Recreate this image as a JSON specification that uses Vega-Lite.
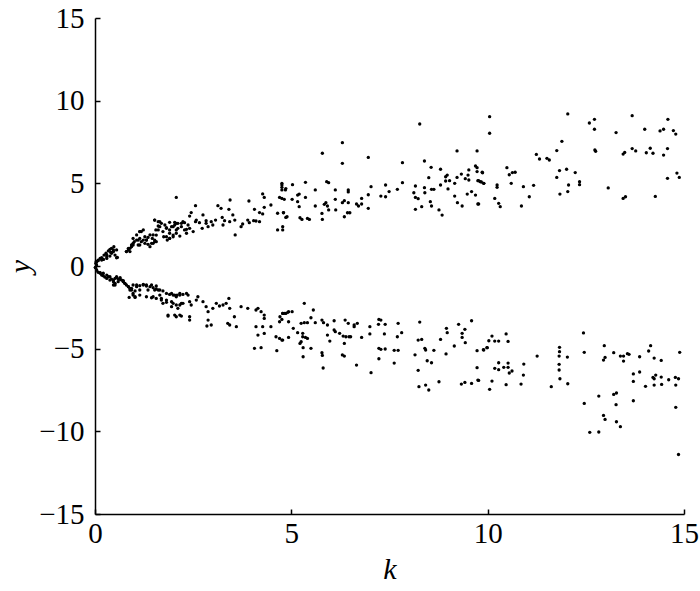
{
"$schema":"https://vega.github.io/schema/vega-lite/v6.json",
"width":589,"height":496,
"autosize":{"type":"none"},
"padding":{"left":95,"top":18,"right":16,"bottom":77},
"background":"white",
"config":{"view":{"stroke":null},
"axis":{"domainColor":"black","domainWidth":1.5,"tickColor":"black","tickWidth":1.5,"tickSize":-5,"grid":false,"labelFont":"Liberation Serif","labelFontSize":29,"labelColor":"black","titleFont":"Liberation Serif","titleFontSize":30,"titleFontStyle":"italic","titleFontWeight":"normal","titleColor":"black","labelFlush":false,"labelOverlap":false}},
"data":{"values":[
{"k":4.76,"y":4.90},{"k":4.76,"y":4.76},{"k":4.76,"y":4.60},{"k":4.86,"y":4.68},{"k":4.70,"y":4.15},{"k":5.03,"y":4.92},{"k":5.36,"y":5.06},{"k":4.82,"y":4.03},{"k":5.02,"y":4.03},{"k":5.16,"y":4.29},{"k":5.20,"y":4.35},{"k":5.16,"y":3.89},{"k":5.20,"y":3.59},{"k":5.36,"y":4.15},{"k":5.61,"y":4.60},{"k":5.61,"y":3.63},{"k":4.80,"y":3.22},{"k":4.86,"y":2.94},{"k":4.78,"y":2.38},{"k":5.22,"y":2.92},{"k":5.27,"y":2.82},{"k":5.41,"y":2.88},{"k":5.46,"y":2.82},{"k":5.78,"y":3.18},{"k":5.79,"y":2.82},{"k":5.79,"y":6.82},{"k":5.90,"y":5.10},{"k":5.95,"y":5.04},{"k":5.88,"y":3.83},{"k":5.92,"y":3.63},{"k":5.84,"y":3.73},{"k":5.95,"y":3.39},{"k":6.12,"y":4.60},{"k":6.12,"y":4.03},{"k":6.13,"y":3.39},{"k":6.30,"y":7.46},{"k":6.30,"y":6.21},{"k":6.30,"y":3.83},{"k":6.35,"y":3.95},{"k":6.45,"y":4.60},{"k":6.45,"y":4.48},{"k":6.45,"y":3.83},{"k":6.35,"y":2.98},{"k":6.43,"y":3.22},{"k":6.49,"y":3.22},{"k":6.66,"y":3.75},{"k":6.71,"y":3.63},{"k":6.79,"y":4.09},{"k":6.79,"y":3.75},{"k":6.96,"y":6.57},{"k":6.96,"y":4.31},{"k":6.96,"y":3.49},{"k":7.03,"y":4.80},{"k":7.28,"y":4.23},{"k":7.40,"y":4.90},{"k":7.40,"y":4.19},{"k":7.49,"y":4.50},{"k":7.70,"y":4.64},{"k":7.83,"y":6.25},{"k":7.83,"y":5.04},{"k":8.12,"y":4.43},{"k":8.16,"y":4.84},{"k":8.16,"y":4.15},{"k":8.23,"y":4.07},{"k":8.16,"y":3.43},{"k":8.32,"y":3.59},{"k":8.39,"y":4.74},{"k":8.40,"y":4.43},{"k":8.27,"y":8.59},{"k":8.39,"y":6.35},{"k":8.50,"y":5.34},{"k":8.56,"y":5.97},{"k":8.57,"y":4.64},{"k":8.63,"y":4.64},{"k":8.54,"y":3.89},{"k":8.57,"y":3.63},{"k":8.76,"y":3.39},{"k":8.84,"y":3.08},{"k":8.80,"y":5.85},{"k":8.80,"y":4.90},{"k":8.93,"y":5.40},{"k":8.97,"y":5.50},{"k":8.93,"y":5.14},{"k":9.03,"y":5.16},{"k":8.99,"y":4.66},{"k":9.16,"y":5.00},{"k":9.16,"y":4.23},{"k":9.22,"y":6.96},{"k":9.22,"y":5.36},{"k":9.23,"y":3.83},{"k":9.33,"y":5.56},{"k":9.35,"y":3.63},{"k":9.43,"y":5.28},{"k":9.50,"y":5.50},{"k":9.52,"y":5.81},{"k":9.52,"y":5.20},{"k":9.48,"y":4.35},{"k":9.59,"y":4.50},{"k":9.69,"y":6.05},{"k":9.73,"y":6.96},{"k":9.73,"y":5.95},{"k":9.73,"y":5.71},{"k":9.69,"y":4.29},{"k":9.75,"y":3.75},{"k":9.75,"y":5.16},{"k":9.81,"y":5.10},{"k":9.87,"y":5.64},{"k":9.90,"y":5.00},
{"k":5.33,"y":-2.26},{"k":4.78,"y":-2.86},{"k":4.82,"y":-2.86},{"k":4.91,"y":-2.80},{"k":5.02,"y":-2.76},{"k":4.70,"y":-3.37},{"k":4.76,"y":-3.23},{"k":4.93,"y":-3.37},{"k":5.56,"y":-2.66},{"k":5.50,"y":-3.13},{"k":5.05,"y":-3.77},{"k":5.16,"y":-4.03},{"k":5.25,"y":-3.47},{"k":5.33,"y":-3.43},{"k":5.41,"y":-3.43},{"k":5.61,"y":-3.43},{"k":5.78,"y":-3.27},{"k":5.82,"y":-3.43},{"k":5.92,"y":-3.57},{"k":6.09,"y":-3.31},{"k":6.37,"y":-3.27},{"k":6.45,"y":-3.47},{"k":6.60,"y":-3.57},{"k":6.68,"y":-3.47},{"k":6.60,"y":-3.67},{"k":7.00,"y":-3.67},{"k":7.23,"y":-3.23},{"k":7.28,"y":-3.27},{"k":7.22,"y":-3.53},{"k":7.39,"y":-3.53},{"k":7.72,"y":-3.47},{"k":4.78,"y":-4.48},{"k":4.93,"y":-4.32},{"k":5.22,"y":-4.68},{"k":5.29,"y":-4.07},{"k":5.25,"y":-4.58},{"k":5.29,"y":-4.28},{"k":5.36,"y":-4.32},{"k":5.41,"y":-4.38},{"k":5.30,"y":-4.94},{"k":5.50,"y":-4.98},{"k":5.30,"y":-5.49},{"k":5.78,"y":-5.24},{"k":5.79,"y":-5.41},{"k":5.81,"y":-6.17},{"k":5.92,"y":-4.18},{"k":5.98,"y":-4.54},{"k":6.09,"y":-3.87},{"k":6.12,"y":-3.97},{"k":6.23,"y":-4.07},{"k":6.32,"y":-4.24},{"k":6.35,"y":-4.68},{"k":6.30,"y":-5.38},{"k":6.35,"y":-5.45},{"k":6.39,"y":-4.28},{"k":6.47,"y":-4.28},{"k":6.51,"y":-4.28},{"k":6.79,"y":-4.32},{"k":6.66,"y":-5.99},{"k":7.00,"y":-4.11},{"k":7.23,"y":-4.98},{"k":7.28,"y":-5.04},{"k":7.39,"y":-5.02},{"k":7.37,"y":-4.11},{"k":7.23,"y":-5.61},{"k":7.03,"y":-6.45},{"k":7.62,"y":-5.10},{"k":7.72,"y":-5.10},{"k":7.70,"y":-4.28},{"k":7.81,"y":-4.03},{"k":7.62,"y":-5.87},{"k":8.15,"y":-5.37},{"k":8.23,"y":-4.48},{"k":8.32,"y":-4.44},{"k":8.27,"y":-3.39},{"k":8.40,"y":-4.98},{"k":8.42,"y":-5.08},{"k":8.63,"y":-5.10},{"k":8.46,"y":-5.73},{"k":8.57,"y":-5.85},{"k":8.23,"y":-6.31},{"k":8.25,"y":-7.30},{"k":8.42,"y":-7.20},{"k":8.50,"y":-7.50},{"k":8.76,"y":-7.00},{"k":8.80,"y":-4.44},{"k":8.94,"y":-5.32},{"k":8.95,"y":-3.77},{"k":8.97,"y":-4.03},{"k":9.15,"y":-4.84},{"k":9.26,"y":-3.53},{"k":9.35,"y":-4.07},{"k":9.35,"y":-4.32},{"k":9.42,"y":-3.83},{"k":9.43,"y":-4.64},{"k":9.59,"y":-3.31},{"k":9.73,"y":-5.12},{"k":9.90,"y":-5.08},{"k":9.98,"y":-4.94},{"k":9.73,"y":-6.15},{"k":9.75,"y":-6.90},{"k":9.33,"y":-7.14},{"k":9.42,"y":-7.04},{"k":9.59,"y":-7.10},
{"k":10.05,"y":9.03},{"k":10.05,"y":8.03},{"k":9.86,"y":5.67},{"k":9.77,"y":5.16},{"k":9.84,"y":5.08},{"k":9.90,"y":5.00},{"k":9.77,"y":3.75},{"k":10.24,"y":4.90},{"k":10.24,"y":4.76},{"k":10.18,"y":4.09},{"k":10.28,"y":3.79},{"k":10.32,"y":3.59},{"k":10.49,"y":5.95},{"k":10.55,"y":5.52},{"k":10.60,"y":5.00},{"k":10.63,"y":5.65},{"k":10.70,"y":5.67},{"k":10.86,"y":3.63},{"k":10.91,"y":4.80},{"k":11.06,"y":4.19},{"k":11.17,"y":4.88},{"k":11.24,"y":6.75},{"k":11.32,"y":6.47},{"k":11.51,"y":6.51},{"k":11.57,"y":6.41},{"k":11.76,"y":6.98},{"k":11.89,"y":7.54},{"k":12.04,"y":9.20},{"k":11.83,"y":5.77},{"k":11.76,"y":5.36},{"k":12.01,"y":5.85},{"k":12.23,"y":5.65},{"k":12.06,"y":4.90},{"k":12.04,"y":4.50},{"k":11.84,"y":4.35},{"k":12.34,"y":5.10},{"k":12.34,"y":4.92},{"k":12.59,"y":8.65},{"k":12.72,"y":8.87},{"k":12.72,"y":8.27},{"k":12.73,"y":7.02},{"k":12.75,"y":6.94},{"k":13.07,"y":4.72},{"k":13.27,"y":8.07},{"k":13.45,"y":6.77},{"k":13.49,"y":6.87},{"k":13.45,"y":4.09},{"k":13.51,"y":4.19},{"k":13.68,"y":9.09},{"k":13.68,"y":7.10},{"k":13.77,"y":6.96},{"k":14.00,"y":8.27},{"k":14.04,"y":6.85},{"k":14.14,"y":7.12},{"k":14.21,"y":6.82},{"k":14.27,"y":4.21},{"k":14.39,"y":8.17},{"k":14.48,"y":8.27},{"k":14.48,"y":6.71},{"k":14.58,"y":7.10},{"k":14.59,"y":8.87},{"k":14.58,"y":5.30},{"k":14.73,"y":8.19},{"k":14.79,"y":7.98},{"k":14.82,"y":5.62},{"k":14.88,"y":5.36},
{"k":10.11,"y":-4.24},{"k":10.03,"y":-4.52},{"k":10.18,"y":-4.54},{"k":10.28,"y":-4.54},{"k":10.47,"y":-4.11},{"k":10.52,"y":-4.56},{"k":9.99,"y":-4.94},{"k":9.89,"y":-5.06},{"k":10.28,"y":-5.85},{"k":10.52,"y":-5.87},{"k":10.18,"y":-6.19},{"k":10.28,"y":-6.27},{"k":10.41,"y":-6.13},{"k":10.52,"y":-6.13},{"k":10.62,"y":-6.35},{"k":10.55,"y":-6.47},{"k":10.92,"y":-5.93},{"k":10.91,"y":-6.60},{"k":9.77,"y":-6.92},{"k":10.11,"y":-6.96},{"k":10.05,"y":-7.46},{"k":10.47,"y":-7.18},{"k":10.85,"y":-7.14},{"k":11.26,"y":-5.45},{"k":11.83,"y":-4.92},{"k":11.83,"y":-5.18},{"k":11.82,"y":-5.45},{"k":11.82,"y":-5.95},{"k":11.82,"y":-6.29},{"k":11.84,"y":-6.82},{"k":12.03,"y":-5.51},{"k":12.04,"y":-7.12},{"k":11.62,"y":-7.30},{"k":12.44,"y":-4.05},{"k":12.46,"y":-5.22},{"k":12.97,"y":-4.82},{"k":12.99,"y":-5.53},{"k":12.95,"y":-5.69},{"k":13.21,"y":-5.24},{"k":13.38,"y":-5.45},{"k":13.46,"y":-5.45},{"k":13.46,"y":-5.75},{"k":13.56,"y":-5.30},{"k":13.60,"y":-5.34},{"k":13.87,"y":-5.49},{"k":14.10,"y":-5.14},{"k":14.15,"y":-4.82},{"k":14.24,"y":-5.57},{"k":14.42,"y":-5.71},{"k":14.89,"y":-5.22},{"k":13.71,"y":-6.53},{"k":13.87,"y":-6.41},{"k":13.71,"y":-6.98},{"k":14.02,"y":-7.28},{"k":14.21,"y":-6.74},{"k":14.24,"y":-6.82},{"k":14.28,"y":-6.60},{"k":14.42,"y":-6.72},{"k":14.24,"y":-7.20},{"k":14.43,"y":-7.16},{"k":14.61,"y":-6.88},{"k":14.78,"y":-6.74},{"k":14.86,"y":-6.82},{"k":14.79,"y":-7.20},{"k":13.71,"y":-8.15},{"k":12.46,"y":-8.31},{"k":12.83,"y":-7.87},{"k":13.21,"y":-7.77},{"k":13.28,"y":-7.68},{"k":13.27,"y":-8.39},{"k":12.95,"y":-9.04},{"k":12.99,"y":-9.28},{"k":13.28,"y":-9.42},{"k":13.38,"y":-9.72},{"k":12.60,"y":-10.06},{"k":12.83,"y":-10.04},{"k":14.79,"y":-8.55},{"k":14.86,"y":-11.40},
{"k":2.07,"y":4.15},{"k":2.56,"y":3.65},{"k":3.13,"y":3.65},{"k":3.44,"y":3.99},{"k":3.92,"y":3.93},{"k":4.27,"y":4.36},{"k":4.31,"y":4.15},{"k":4.76,"y":5.00},{"k":4.85,"y":4.60},{"k":4.76,"y":4.09},{"k":4.80,"y":3.23},{"k":4.65,"y":3.19},{"k":4.78,"y":2.18},{"k":4.65,"y":2.18},{"k":4.89,"y":2.98},{"k":4.48,"y":3.69},{"k":4.06,"y":3.43},{"k":4.19,"y":3.23},{"k":4.27,"y":3.15},{"k":4.31,"y":3.55},{"k":4.10,"y":2.72},{"k":3.93,"y":2.62},{"k":3.89,"y":2.78},{"k":4.04,"y":2.74},{"k":4.19,"y":2.68},{"k":3.76,"y":2.54},{"k":3.72,"y":2.38},{"k":3.57,"y":1.88},{"k":3.41,"y":3.43},{"k":3.51,"y":3.09},{"k":3.56,"y":2.78},{"k":3.43,"y":2.68},{"k":3.30,"y":2.74},{"k":3.26,"y":2.48},{"k":3.21,"y":3.49},{"k":3.24,"y":2.94},{"k":3.07,"y":2.78},{"k":3.00,"y":2.48},{"k":2.96,"y":2.68},{"k":2.83,"y":2.74},{"k":2.83,"y":2.58},{"k":2.88,"y":2.38},{"k":2.75,"y":3.09},{"k":2.73,"y":2.28},{"k":2.66,"y":2.62},{"k":2.58,"y":2.78},{"k":2.56,"y":2.68},{"k":2.45,"y":3.23},{"k":2.41,"y":3.02},{"k":2.41,"y":2.28},{"k":2.50,"y":2.08},{"k":2.33,"y":2.22},{"k":2.37,"y":2.48},{"k":2.28,"y":2.62},{"k":2.20,"y":2.58},{"k":2.11,"y":2.58},{"k":2.03,"y":2.64},{"k":2.07,"y":2.18},{"k":1.90,"y":2.64},{"k":1.99,"y":2.38},{"k":1.82,"y":2.32},{"k":1.90,"y":1.98},{"k":2.07,"y":1.98},{"k":2.16,"y":1.81},{"k":1.99,"y":1.77},{"k":1.90,"y":1.67},{"k":1.84,"y":1.57},{"k":1.75,"y":1.77},{"k":1.65,"y":2.68},{"k":1.61,"y":2.42},{"k":1.52,"y":2.78},{"k":1.55,"y":2.18},{"k":1.48,"y":1.88},{"k":1.40,"y":1.88},{"k":1.35,"y":1.73},{"k":1.31,"y":1.57},{"k":1.27,"y":1.37},{"k":1.14,"y":2.08},{"k":1.18,"y":2.08},{"k":1.06,"y":1.88},{"k":1.10,"y":1.57},{"k":1.14,"y":1.27},{"k":0.97,"y":1.37},{"k":0.93,"y":1.27},{"k":0.85,"y":1.07},{"k":0.80,"y":0.87},{"k":0.89,"y":0.87},{"k":0.97,"y":1.67},{"k":1.23,"y":1.57},{"k":1.52,"y":1.57},{"k":1.56,"y":1.47},{"k":1.44,"y":1.37},{"k":0.55,"y":0.97},{"k":0.47,"y":0.87},{"k":0.42,"y":0.77},{"k":0.38,"y":0.60},{"k":0.30,"y":0.46},{"k":0.21,"y":0.40},{"k":0.17,"y":0.36},{"k":0.08,"y":0.32},{"k":0.04,"y":0.26},{"k":0.30,"y":0.67},{"k":0.57,"y":0.52},{"k":0.02,"y":0.16},{"k":0.04,"y":0.06},
{"k":0.01,"y":-0.08},{"k":0.04,"y":-0.24},{"k":0.13,"y":-0.40},{"k":0.21,"y":-0.44},{"k":0.30,"y":-0.55},{"k":0.38,"y":-0.65},{"k":0.47,"y":-0.85},{"k":0.55,"y":-0.69},{"k":0.64,"y":-0.81},{"k":0.72,"y":-0.89},{"k":0.51,"y":-1.15},{"k":0.59,"y":-0.95},{"k":0.76,"y":-1.05},{"k":0.85,"y":-1.25},{"k":0.89,"y":-1.45},{"k":0.97,"y":-1.76},{"k":0.87,"y":-1.90},{"k":1.02,"y":-1.90},{"k":0.93,"y":-1.35},{"k":1.06,"y":-1.15},{"k":1.14,"y":-1.45},{"k":1.23,"y":-1.15},{"k":1.31,"y":-1.21},{"k":1.44,"y":-1.15},{"k":1.56,"y":-1.21},{"k":1.35,"y":-1.45},{"k":1.52,"y":-1.45},{"k":1.61,"y":-1.45},{"k":1.48,"y":-1.86},{"k":1.65,"y":-1.76},{"k":1.69,"y":-1.96},{"k":1.73,"y":-2.26},{"k":1.82,"y":-2.06},{"k":1.95,"y":-1.66},{"k":2.03,"y":-1.76},{"k":2.09,"y":-1.76},{"k":2.16,"y":-1.66},{"k":1.95,"y":-2.16},{"k":1.95,"y":-2.46},{"k":2.07,"y":-2.36},{"k":2.20,"y":-2.26},{"k":2.11,"y":-2.56},{"k":2.37,"y":-1.76},{"k":2.41,"y":-2.16},{"k":2.45,"y":-2.36},{"k":2.58,"y":-2.06},{"k":2.62,"y":-1.86},{"k":2.75,"y":-2.16},{"k":2.83,"y":-2.46},{"k":2.88,"y":-2.76},{"k":3.00,"y":-2.56},{"k":3.09,"y":-2.26},{"k":3.17,"y":-2.42},{"k":3.26,"y":-2.36},{"k":3.34,"y":-2.26},{"k":3.41,"y":-1.96},{"k":3.43,"y":-2.56},{"k":3.55,"y":-3.07},{"k":3.60,"y":-3.67},{"k":3.43,"y":-3.57},{"k":1.86,"y":-3.03},{"k":2.07,"y":-3.07},{"k":2.20,"y":-3.03},{"k":2.41,"y":-3.07},{"k":2.41,"y":-3.27},{"k":2.88,"y":-3.27},{"k":2.85,"y":-3.63},{"k":2.96,"y":-3.57},{"k":3.38,"y":-3.47},{"k":3.72,"y":-2.46},{"k":3.89,"y":-2.56},{"k":4.10,"y":-2.66},{"k":4.15,"y":-2.56},{"k":4.23,"y":-2.76},{"k":4.31,"y":-2.97},{"k":4.31,"y":-3.17},{"k":4.27,"y":-3.67},{"k":4.10,"y":-3.67},{"k":4.15,"y":-4.18},{"k":4.31,"y":-4.08},{"k":4.48,"y":-3.67},{"k":4.61,"y":-4.28},{"k":4.70,"y":-4.38},{"k":4.76,"y":-4.48},{"k":4.71,"y":-3.07},{"k":4.78,"y":-2.87},{"k":4.86,"y":-2.87},{"k":4.93,"y":-2.76},{"k":4.06,"y":-4.98},{"k":4.23,"y":-4.94},{"k":4.63,"y":-5.12},
{"k":0.03,"y":0.26},{"k":0.08,"y":0.36},{"k":0.13,"y":0.46},{"k":0.17,"y":0.50},{"k":0.23,"y":0.66},{"k":0.28,"y":0.77},{"k":0.34,"y":0.91},{"k":0.38,"y":1.01},{"k":0.42,"y":1.07},{"k":0.47,"y":0.97},{"k":0.40,"y":0.83},{"k":0.30,"y":0.56},{"k":0.21,"y":0.40},{"k":0.55,"y":0.50},{"k":0.51,"y":0.66},{"k":0.48,"y":1.17},{"k":0.80,"y":0.87},{"k":0.85,"y":0.97},{"k":0.89,"y":1.07},{"k":0.93,"y":1.17},{"k":0.97,"y":1.27},{"k":1.00,"y":1.47},{"k":1.06,"y":1.57},{"k":1.14,"y":1.67},{"k":1.18,"y":1.47},{"k":1.10,"y":1.27},{"k":1.27,"y":1.77},{"k":1.31,"y":1.57},{"k":1.35,"y":1.31},{"k":1.40,"y":1.17},{"k":1.48,"y":1.37},{"k":1.52,"y":1.47},{"k":1.14,"y":2.08},{"k":1.23,"y":2.18},{"k":1.46,"y":1.67},{"k":1.56,"y":1.87},{"k":1.61,"y":2.18},{"k":1.65,"y":2.38},{"k":1.52,"y":2.78},{"k":1.61,"y":2.68},{"k":1.69,"y":2.58},{"k":1.78,"y":2.48},{"k":1.82,"y":2.28},{"k":1.90,"y":2.18},{"k":1.95,"y":2.38},{"k":2.03,"y":2.48},{"k":2.07,"y":2.58},{"k":2.11,"y":2.28},{"k":2.20,"y":2.38},{"k":2.24,"y":2.68},{"k":2.28,"y":2.18},{"k":2.33,"y":1.98},{"k":1.99,"y":1.87},{"k":1.90,"y":1.67},{"k":1.82,"y":1.77},{"k":1.73,"y":2.08},
{"k":0.01,"y":-0.10},{"k":0.04,"y":-0.24},{"k":0.08,"y":-0.38},{"k":0.13,"y":-0.44},{"k":0.17,"y":-0.55},{"k":0.21,"y":-0.59},{"k":0.25,"y":-0.67},{"k":0.30,"y":-0.75},{"k":0.34,"y":-0.65},{"k":0.38,"y":-0.85},{"k":0.42,"y":-0.79},{"k":0.47,"y":-0.95},{"k":0.51,"y":-0.75},{"k":0.55,"y":-0.65},{"k":0.59,"y":-0.79},{"k":0.64,"y":-0.71},{"k":0.68,"y":-0.85},{"k":0.72,"y":-0.95},{"k":0.76,"y":-1.05},{"k":0.47,"y":-1.15},{"k":0.51,"y":-1.05},{"k":0.80,"y":-1.15},{"k":0.85,"y":-1.25},{"k":0.89,"y":-1.35},{"k":0.93,"y":-1.45},{"k":0.97,"y":-1.66},{"k":1.02,"y":-1.51},{"k":0.97,"y":-1.15},{"k":1.06,"y":-1.25},{"k":1.14,"y":-1.19},{"k":1.23,"y":-1.11},{"k":1.31,"y":-1.15},{"k":1.40,"y":-1.25},{"k":1.48,"y":-1.31},{"k":1.56,"y":-1.39},{"k":1.65,"y":-1.45},{"k":1.73,"y":-1.51},{"k":1.82,"y":-1.66},{"k":1.90,"y":-1.72},{"k":1.99,"y":-1.76},{"k":2.07,"y":-1.86},{"k":2.16,"y":-1.76},{"k":2.24,"y":-1.72},{"k":2.33,"y":-1.66},{"k":1.02,"y":-1.86},{"k":1.14,"y":-1.76},{"k":1.31,"y":-1.86},{"k":1.44,"y":-1.92},{"k":1.56,"y":-1.96},{"k":1.69,"y":-2.06},{"k":1.82,"y":-2.20},{"k":1.99,"y":-2.26},{"k":2.16,"y":-2.36},{"k":2.24,"y":-2.26},{"k":1.86,"y":-2.97},{"k":2.03,"y":-2.97},{"k":2.16,"y":-2.97}
]},
"mark":{"type":"circle","size":11,"color":"black","opacity":1},
"encoding":{
"x":{"field":"k","type":"quantitative","scale":{"domain":[0,15],"nice":false,"zero":false},"axis":{"values":[0,5,10,15],"title":"k","labelPadding":10,"titlePadding":6}},
"y":{"field":"y","type":"quantitative","scale":{"domain":[-15,15],"nice":false,"zero":false},"axis":{"values":[-15,-10,-5,0,5,10,15],"title":"y","labelPadding":16,"titlePadding":3}}
}
}
